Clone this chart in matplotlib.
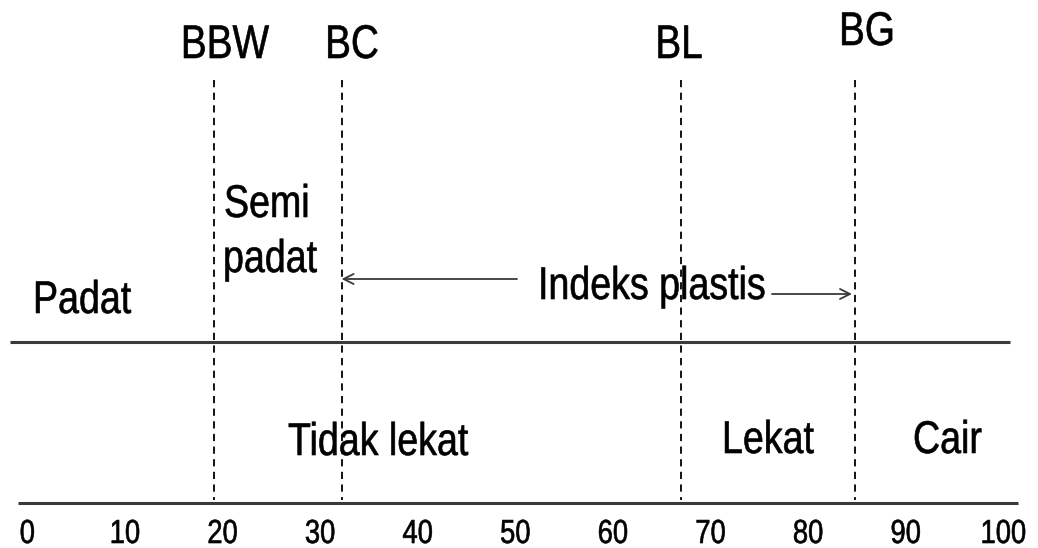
import matplotlib
matplotlib.use("Agg")
import matplotlib.pyplot as plt
from matplotlib import font_manager
from matplotlib.patheffects import AbstractPathEffect
from matplotlib.transforms import Affine2D

# ---- data ----
tick_values = [0, 10, 20, 30, 40, 50, 60, 70, 80, 90, 100]
limit_names = ["BBW", "BC", "BL", "BG"]
limit_values = [19.5, 32.6, 67.4, 85.2]
upper_zones = ["Padat", "Semi\npadat"]
lower_zones = ["Tidak lekat", "Lekat", "Cair"]
index_label = "Indeks plastis"

names = {f.name for f in font_manager.fontManager.ttflist}
NARROW = "Liberation Sans Narrow" in names
FONT = "Liberation Sans Narrow" if NARROW else "Liberation Sans"
SX = 1.0 if NARROW else 0.82
plt.rcParams["font.family"] = [FONT, "DejaVu Sans"]


class Condense(AbstractPathEffect):
    """Horizontally condense glyph outlines around a fixed display x."""

    def __init__(self, x0, sx, stroke=0.45):
        super().__init__()
        self.x0 = x0
        self.sx = sx
        self.stroke = stroke

    def draw_path(self, renderer, gc, tpath, affine, rgbFace=None):
        a = affine + Affine2D().translate(-self.x0, 0).scale(self.sx, 1).translate(self.x0, 0)
        gc0 = renderer.new_gc()
        gc0.copy_properties(gc)
        gc0.set_linewidth(self.stroke)
        if rgbFace is not None:
            gc0.set_foreground(rgbFace)
        renderer.draw_path(gc0, tpath, a, rgbFace)
        gc0.restore()


fig = plt.figure(figsize=(10.38, 5.48), dpi=100)
ax = fig.add_axes([0, 0, 1, 1])
X0, SCALE = 23.4, 9.76  # pixel of value 0, pixels per unit
ax.set_xlim((0 - X0) / SCALE, (1038 - X0) / SCALE)
ax.set_ylim(548, 0)
ax.axis("off")


def px(x):
    return (x - X0) / SCALE


def label(x, y, s, ha="left", size=33):
    xd = ax.transData.transform((x, y))[0]
    ax.text(x, y, s, ha=ha, va="baseline", fontsize=size, color="black",
            path_effects=[Condense(xd, SX)])


line_col = "#3a3a3a"
# horizontal lines
ax.plot([px(18), px(1018)], [503, 503], color=line_col, lw=2.2, solid_capstyle="butt")
ax.plot([px(10), px(1010)], [342, 342], color=line_col, lw=2.2, solid_capstyle="butt")

# dashed boundary lines
for v in limit_values:
    ax.plot([v, v], [80, 500], color="black", lw=1.3, linestyle=(0, (4, 3)))

# tick labels
for v in tick_values:
    label(v + 0.4, 543, str(v), ha="center", size=24)

# boundary labels
label_pos = [(225, 58), (352, 58), (679, 58), (867, 45)]
for name, (x, y) in zip(limit_names, label_pos):
    label(px(x), y, name, ha="center", size=34)

# upper zone labels
semi, padat2 = upper_zones[1].split("\n")
label(px(33), 313, upper_zones[0])
label(px(224), 217, semi)
label(px(223), 272, padat2)

# plasticity index
label(px(538), 299, index_label)
arrow = dict(arrowstyle="->", color=line_col, lw=1.3, mutation_scale=18, shrinkA=0, shrinkB=0)
ax.annotate("", xy=(limit_values[1], 279), xytext=(px(517), 279), arrowprops=arrow)
ax.annotate("", xy=(limit_values[3] - 0.3, 294), xytext=(px(772), 294), arrowprops=arrow)

# lower zone labels
lower_pos = [(288, 455), (722, 453), (913, 453)]
for name, (x, y) in zip(lower_zones, lower_pos):
    label(px(x), y, name)

fig.savefig("out.png", dpi=100, facecolor="white")
